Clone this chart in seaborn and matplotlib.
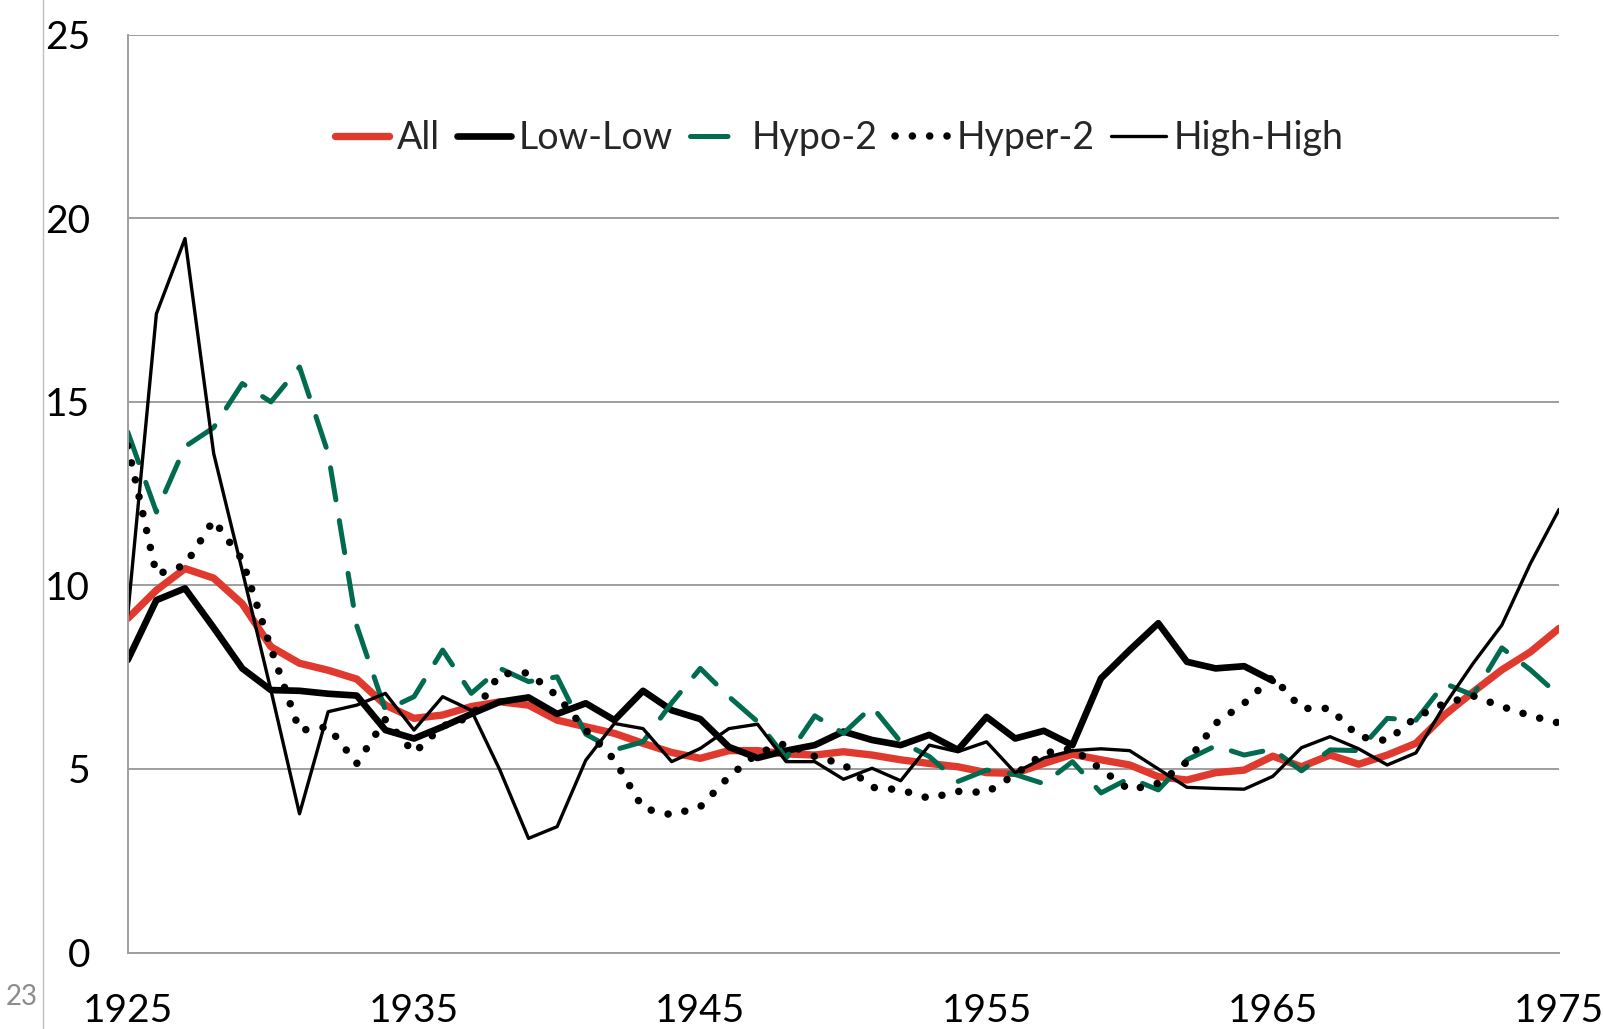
import matplotlib
matplotlib.use('Agg')
import matplotlib.pyplot as plt
import numpy as np
import pandas as pd
import seaborn as sns
from matplotlib.lines import Line2D

years = list(range(1925, 1976))

all_vals = [9.1, 9.87, 10.46, 10.2, 9.5, 8.33, 7.88, 7.69, 7.45, 6.74,
            6.38, 6.47, 6.7, 6.83, 6.74, 6.33, 6.15, 5.97, 5.7, 5.45,
            5.29, 5.5, 5.5, 5.41, 5.38, 5.47, 5.38, 5.25, 5.15, 5.06,
            4.9, 4.88, 5.15, 5.4, 5.25, 5.11, 4.79, 4.7, 4.9, 4.97,
            5.35, 5.06, 5.38, 5.13, 5.38, 5.7, 6.47, 7.1, 7.7, 8.19, 8.83]

low_low = [7.97, 9.6, 9.92, 8.85, 7.74, 7.15, 7.13, 7.05, 7.0, 6.06,
           5.83, 6.15, 6.5, 6.83, 6.95, 6.5, 6.79, 6.33, 7.13, 6.6,
           6.36, 5.6, 5.3, 5.5, 5.65, 6.02, 5.79, 5.65, 5.93, 5.52,
           6.42, 5.83, 6.04, 5.65, 7.47, 8.24, 8.97, 7.92, 7.74, 7.8, 7.4]

hypo_2 = [14.18, 12.0, 13.78, 14.3, 15.5, 15.0, 15.95, 13.6, 8.9, 6.6,
          6.97, 8.24, 7.06, 7.74, 7.38, 7.51, 5.95, 5.52, 5.74, 6.8,
          7.74, 6.97, 6.29, 5.3, 6.45, 5.97, 6.7, 5.74, 5.34, 4.66,
          4.97, 4.85, 4.6, 5.2, 4.35, 4.75, 4.43, 5.25, 5.63, 5.38,
          5.54, 4.95, 5.52, 5.5, 6.38, 6.33, 7.33, 7.01, 8.3, 7.7, 7.0]

hyper_2 = [13.8, 10.3, 10.55, 11.78, 10.7, 8.29, 6.05, 6.15, 5.15, 6.35,
           5.44, 6.17, 6.42, 7.59, 7.62, 6.99, 6.06, 5.25, 3.93, 3.75,
           3.97, 4.79, 5.43, 5.7, 5.34, 5.13, 4.5, 4.43, 4.2, 4.39,
           4.36, 4.85, 5.43, 5.56, 4.99, 4.43, 4.61, 5.19, 6.24, 6.79,
           7.51, 6.65, 6.65, 5.88, 5.77, 6.41, 6.79, 6.99, 6.7, 6.45, 6.25]

high_high = [9.2, 17.4, 19.45, 13.6, 10.4, 7.15, 3.78, 6.56, 6.74, 7.06,
             6.06, 6.97, 6.6, 4.97, 3.11, 3.43, 5.24, 6.24, 6.1, 5.2,
             5.56, 6.1, 6.22, 5.2, 5.2, 4.72, 5.02, 4.68, 5.65, 5.47,
             5.74, 4.9, 5.3, 5.5, 5.55, 5.5, 5.0, 4.5, 4.47, 4.45,
             4.8, 5.58, 5.88, 5.55, 5.11, 5.44, 6.74, 7.88, 8.92, 10.6, 12.07]

x_ticks = [1925, 1935, 1945, 1955, 1965, 1975]
y_ticks = [0, 5, 10, 15, 20, 25]

sns.set_style('white')
plt.rcParams['font.family'] = ['Lato', 'DejaVu Sans']

fig = plt.figure(figsize=(16.03, 10.29), dpi=100)
ax = fig.add_axes([0.0797, 0.0743, 0.8929, 0.8919])

# series: name, values, style
series = [
    ('All', all_vals, dict(color='#E03A2F', lw=5.3, solid_capstyle='round')),
    ('Low-Low', low_low, dict(color='black', lw=4.8, solid_capstyle='round')),
    ('Hypo-2', hypo_2, dict(color='#006B4E', lw=3.6, dashes=(6.5, 4.2),
                            dash_capstyle='round')),
    ('Hyper-2', hyper_2, dict(color='black', lw=5.4, dashes=(0.01, 2.3),
                              dash_capstyle='round')),
    ('High-High', high_high, dict(color='black', lw=2.4, solid_capstyle='round')),
]

for name, vals, style in series:
    df = pd.DataFrame({'year': years[:len(vals)], 'value': vals})
    sns.lineplot(data=df, x='year', y='value', ax=ax, label=name, **style)

ax.set_xlim(1925, 1975)
ax.set_ylim(0, 25)
ax.set_xticks(x_ticks)
ax.set_yticks(y_ticks)
ax.set_xlabel('')
ax.set_ylabel('')

ax.yaxis.grid(True, color='#9E9E9E', lw=1.4)
ax.xaxis.grid(False)
for s in ['top', 'right']:
    ax.spines[s].set_visible(False)
for s in ['left', 'bottom']:
    ax.spines[s].set_color('#9E9E9E')
    ax.spines[s].set_linewidth(1.4)
ax.tick_params(axis='both', direction='out', length=9, width=1.4,
               color='#9E9E9E', labelsize=28, labelcolor='black')
ax.tick_params(axis='x', pad=20)
ax.tick_params(axis='y', pad=18)

leg = ax.legend(loc='center', bbox_to_anchor=(0.497, 0.887), ncol=5, frameon=False,
                fontsize=27, handlelength=1.45, handletextpad=0.2, columnspacing=0.45)
# single dash in the Hypo-2 legend key, like the original
leg.get_lines()[2].set_dashes((7.5, 12))

# slide border and page number
fig.add_artist(Line2D([0.0268, 0.0268], [0, 1], transform=fig.transFigure,
                      color='#BFBFBF', lw=1.0))
fig.text(0.0137, 0.031, '23', color='#8C8C8C', fontsize=20, ha='center', va='center')

fig.savefig('out.png', dpi=100)
